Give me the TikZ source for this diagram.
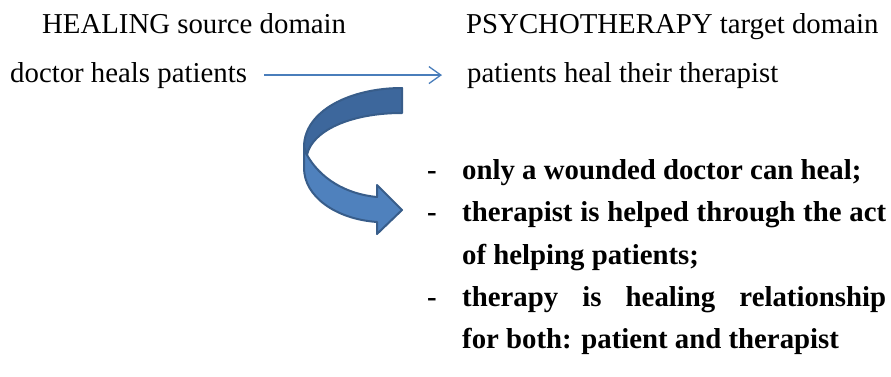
\documentclass[tikz,border=0pt]{standalone}
\usepackage{fontspec}
\setmainfont{Liberation Serif}
\usetikzlibrary{arrows.meta}
\definecolor{linkblue}{HTML}{4A7EBB}
\definecolor{ribbondark}{HTML}{3D679C}
\definecolor{ribbonlight}{HTML}{4F81BD}
\definecolor{ribbonedge}{HTML}{385D8A}
\newcommand{\claimitem}{\par\hangindent=35pt\hangafter=1\noindent\makebox[35pt][l]{-}}
\begin{document}
\begin{tikzpicture}[x=1pt,y=1pt,
    domtext/.style={anchor=base west, inner sep=0pt, font=\fontsize{28.8}{34}\selectfont},
    claims/.style={anchor=north west, inner sep=0pt, text width=459pt, align=justify,
        font=\fontsize{28.8}{42.3}\selectfont\bfseries},
    maparrow/.style={draw=linkblue, line width=1.3pt, -{Straight Barb[length=12pt,width=17pt]},
        shorten <=17pt, shorten >=25pt},
    ribbon/.style={draw=ribbonedge, line width=2pt, line join=round}]
    \useasboundingbox (0,0) rectangle (891,376);

    % headings of the two domains
    \node[domtext] (source) at (42,343) {HEALING source domain};
    \node[domtext] (target) at (466,343) {PSYCHOTHERAPY target domain};

    % the mapping
    \node[domtext] (docheal) at (10,294) {doctor heals patients};
    \node[domtext] (patheal) at (467,294) {patients heal their therapist};
    \draw[maparrow] (docheal.east) -- (patheal.west);

    % curved arrow: lower (light) part first, then the upper (dark) part
    \filldraw[ribbon, fill=ribbonlight] (307,221) .. controls (320,198) and (345,182) .. (377,179)
        -- (377,191) -- (402,166) -- (377,142) -- (377,154)
        .. controls (335,157) and (304,180) .. (304,208) -- (304,229) -- cycle;
    \filldraw[ribbon, fill=ribbondark] (402,288) .. controls (350,288) and (304,265) .. (304,229)
        -- (307,221) .. controls (312,245) and (350,263) .. (402,263) -- cycle;

    % what the metaphor brings over
    \node[claims] (list) at (427,239) {%
        \claimitem only a wounded doctor can heal;
        \claimitem therapist is helped through the act\linebreak of helping patients;
        \claimitem therapy is healing relationship\linebreak for both: patient and therapist\par};
\end{tikzpicture}
\end{document}
